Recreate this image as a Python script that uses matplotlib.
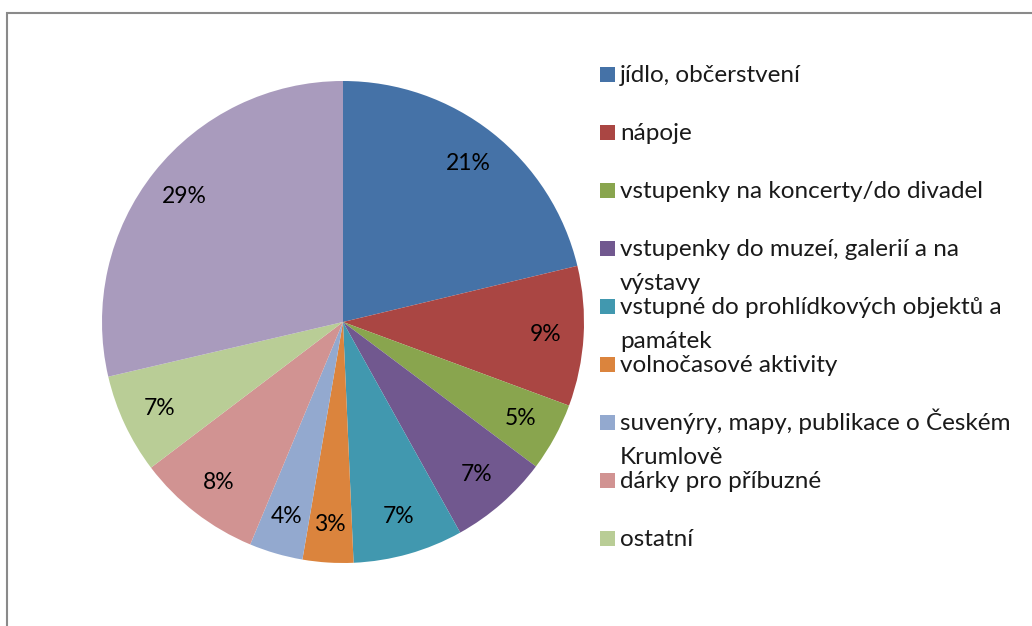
import matplotlib.pyplot as plt
from matplotlib.patches import Rectangle

# Data
categories = [
    "jídlo, občerstvení",
    "nápoje",
    "vstupenky na koncerty/do divadel",
    "vstupenky do muzeí, galerií a na\nvýstavy",
    "vstupné do prohlídkových objektů a\npamátek",
    "volnočasové aktivity",
    "suvenýry, mapy, publikace o Českém\nKrumlově",
    "dárky pro příbuzné",
    "ostatní",
    "",
]
shares = [21.3, 9.4, 4.6, 6.7, 7.4, 3.4, 3.6, 8.4, 6.7, 28.7]
colors = ["#4572A7", "#AA4643", "#89A54E", "#71588F", "#4198AF",
          "#DB843D", "#93A9CF", "#D19392", "#B9CD96", "#A99BBD"]

plt.rcParams['font.family'] = ['Lato', 'DejaVu Sans']

W, H = 1032, 626
fig = plt.figure(figsize=(W / 100, H / 100), dpi=100)

# outer chart border (clipped at right and bottom)
fig.add_artist(Rectangle((7 / W, -0.1), 1.2, 1 - 13 / H + 0.1,
                         transform=fig.transFigure, fill=False,
                         edgecolor="#8a8a8a", linewidth=1.5))

cx, cy, r = 343, 322, 241
ax = fig.add_axes([(cx - r) / W, (H - cy - r) / H, 2 * r / W, 2 * r / H])
ax.pie(shares, colors=colors, startangle=90, counterclock=False,
       autopct='%.0f%%', pctdistance=0.84,
       wedgeprops=dict(linewidth=0),
       textprops=dict(fontsize=16.5, color="black"))
ax.set_xlim(-1, 1)
ax.set_ylim(-1, 1)
ax.axis('off')

# legend
y0, step = 74.5, 58
for i, (label, col) in enumerate(zip(categories[:9], colors[:9])):
    yc = y0 + i * step
    fig.add_artist(Rectangle((600 / W, (H - yc - 7.5) / H), 15 / W, 15 / H,
                             transform=fig.transFigure, facecolor=col,
                             edgecolor="none"))
    for j, line in enumerate(label.split("\n")):
        fig.text(620 / W, (H - yc - 7 - j * 34) / H, line, fontsize=17.5,
                 va='baseline', ha='left', color="#1a1a1a")

fig.savefig("out.png", dpi=100)
